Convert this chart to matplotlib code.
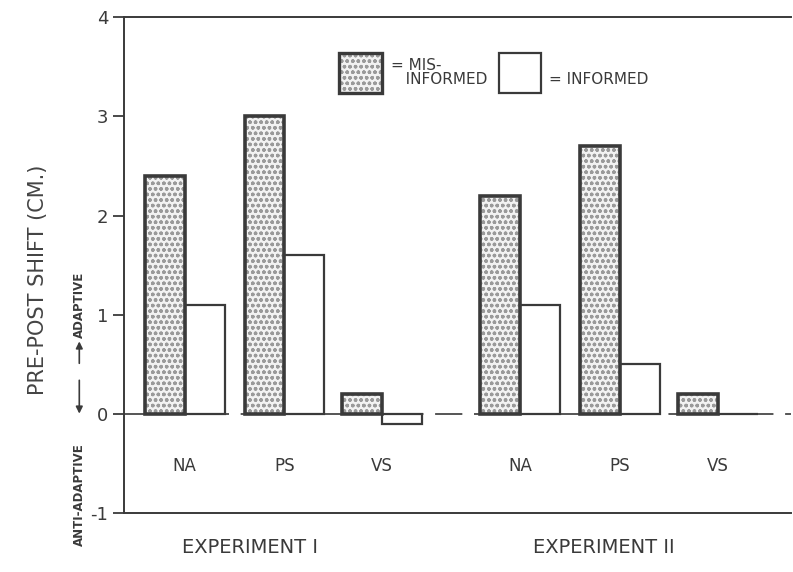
import matplotlib
matplotlib.use("Agg")
import matplotlib.pyplot as plt
from matplotlib.patches import Rectangle

# data
groups = ["NA", "PS", "VS", "NA", "PS", "VS"]
positions = [1.0, 2.0, 2.98, 4.36, 5.36, 6.34]
misinformed = [2.4, 3.0, 0.2, 2.2, 2.7, 0.2]
informed = [1.1, 1.6, -0.1, 1.1, 0.5, 0.0]
experiments = ["EXPERIMENT I", "EXPERIMENT II"]
experiment_x = [1.65, 5.2]

ink = "#3a3a3a"
dots = "#9a9a9a"
w = 0.4

fig = plt.figure(figsize=(7.93, 5.72), dpi=100)
ax = fig.add_axes([0.156, 0.103, 0.841, 0.867])

# zero line
ax.axhline(0, color="#555555", lw=1.4, dashes=(14, 6), zorder=1)

# stippled fill, then the outline on top
left = [p - w / 2 for p in positions]
ax.bar(left, misinformed, width=w, facecolor="#f2f2f2", edgecolor=dots,
       linewidth=0, hatch="ooo", zorder=3)
ax.bar(left, misinformed, width=w, fill=False, edgecolor=ink, linewidth=2.6, zorder=4)
ax.bar([p + w / 2 for p in positions], informed, width=w,
       facecolor="white", edgecolor=ink, linewidth=1.6, zorder=2)

for p, g in zip(positions, groups):
    ax.text(p, -0.53, g, ha="center", va="center", fontsize=12, color=ink)

for x, t in zip(experiment_x, experiments):
    ax.text(x, -1.35, t, ha="center", va="center", fontsize=14, color=ink, clip_on=False)

# legend drawn by hand
ax.add_patch(Rectangle((2.55, 3.24), 0.43, 0.40, facecolor="#f2f2f2", edgecolor=dots,
                       linewidth=0, hatch="ooo", zorder=3))
ax.add_patch(Rectangle((2.55, 3.24), 0.43, 0.40, fill=False, edgecolor=ink,
                       linewidth=2.4, zorder=4))
ax.text(3.07, 3.44, "= MIS-\n   INFORMED", ha="left", va="center", fontsize=11,
        color=ink, linespacing=0.95)
ax.add_patch(Rectangle((4.15, 3.24), 0.42, 0.40, facecolor="white", edgecolor=ink,
                       linewidth=1.6, zorder=3))
ax.text(4.65, 3.37, "= INFORMED", ha="left", va="center", fontsize=11, color=ink)

ax.set_xlim(0.39, 7.07)
ax.set_ylim(-1, 4)
ax.set_xticks([])
ax.set_yticks([-1, 0, 1, 2, 3, 4])
ax.set_yticklabels(["-1", "0", "1", "2", "3", "4"])
ax.tick_params(axis="y", direction="out", length=8, width=1.3, colors=ink,
               labelsize=13, pad=3)
ax.spines["right"].set_visible(False)
for s in ["left", "top", "bottom"]:
    ax.spines[s].set_color(ink)
    ax.spines[s].set_linewidth(1.4)

fig.text(0.048, 0.51, "PRE-POST SHIFT (CM.)", rotation=90, ha="center", va="center",
         fontsize=15, color="#444444")
fig.text(0.100, 0.467, "ADAPTIVE", rotation=90, ha="center", va="center",
         fontsize=8.5, fontweight="bold", color=ink)
fig.text(0.100, 0.135, "ANTI-ADAPTIVE", rotation=90, ha="center", va="center",
         fontsize=8.5, fontweight="bold", color=ink)
ax.annotate("", xy=(0.100, 0.408), xytext=(0.100, 0.36), xycoords="figure fraction",
            arrowprops=dict(arrowstyle="-|>", color=ink, lw=1.2))
ax.annotate("", xy=(0.100, 0.272), xytext=(0.100, 0.34), xycoords="figure fraction",
            arrowprops=dict(arrowstyle="-|>", color=ink, lw=1.2))

fig.savefig("out.png", dpi=100)
